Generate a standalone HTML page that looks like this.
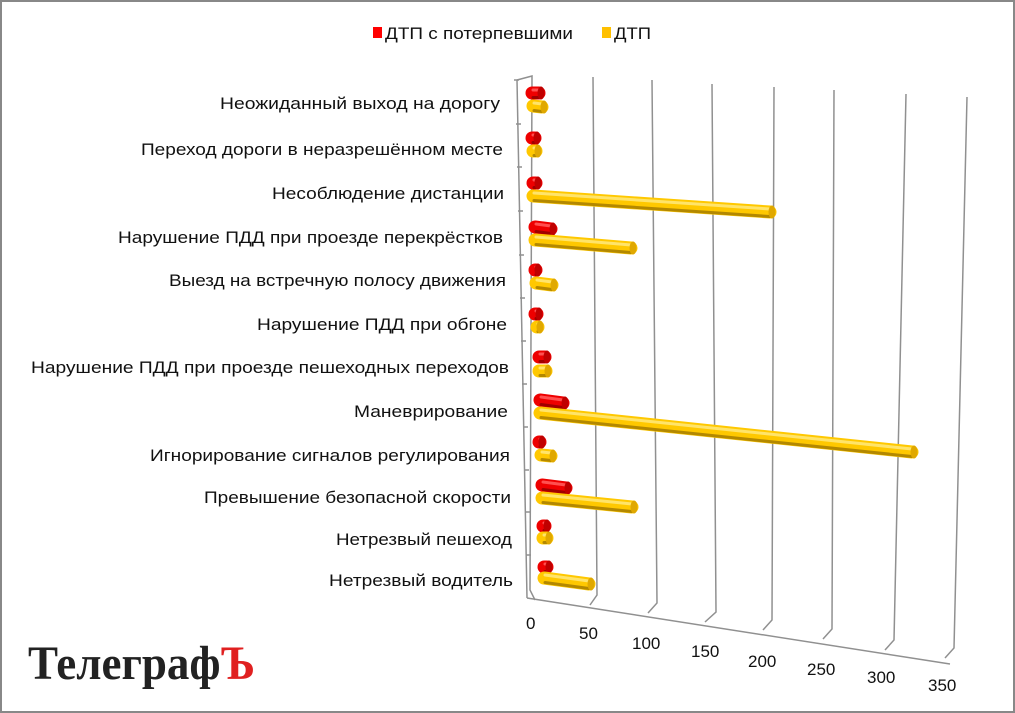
<!DOCTYPE html>
<html><head><meta charset="utf-8"><style>
html,body{margin:0;padding:0;background:#fff}
svg{display:block}
text{font-family:"Liberation Sans",sans-serif;fill:#111}
</style></head><body>
<svg id="s" width="1015" height="713" viewBox="0 0 1015 713" xmlns="http://www.w3.org/2000/svg">
<rect x="1" y="1" width="1013" height="711" fill="#fff" stroke="#888" stroke-width="2"/>
<rect x="373" y="27" width="9" height="11" fill="#ff0000"/>
<text x="385" y="39" font-size="17" textLength="188" lengthAdjust="spacingAndGlyphs">ДТП с потерпевшими</text>
<rect x="602" y="27" width="9" height="11" fill="#ffc000"/>
<text x="614" y="39" font-size="17" textLength="37" lengthAdjust="spacingAndGlyphs">ДТП</text>
<g stroke="#909090" stroke-width="1.5" fill="none">
<polyline points="517,80 532,76 530,590 535,600"/>
<polyline points="593,77 597,595 590,605"/>
<polyline points="652,80 657,603 648,613"/>
<polyline points="712,84 716,612 705,622"/>
<polyline points="774,87 772,620 763,630"/>
<polyline points="834,90 832,629 823,639"/>
<polyline points="906,94 894,640 885,650"/>
<polyline points="967,97 954,648 945,658"/>
<line x1="527" y1="598" x2="950" y2="664"/>
<polyline points="517,80 527,598"/>
</g>
<g stroke="#909090" stroke-width="1.5">
<line x1="514" y1="80" x2="519" y2="80"/><line x1="516" y1="124" x2="521" y2="124"/><line x1="517" y1="167" x2="522" y2="167"/><line x1="518" y1="211" x2="523" y2="211"/><line x1="519" y1="255" x2="524" y2="255"/><line x1="520" y1="298" x2="525" y2="298"/><line x1="521" y1="341" x2="526" y2="341"/><line x1="522" y1="384" x2="527" y2="384"/><line x1="523" y1="427" x2="528" y2="427"/><line x1="524" y1="470" x2="529" y2="470"/><line x1="525" y1="512" x2="530" y2="512"/><line x1="526" y1="555" x2="531" y2="555"/>
</g>
<g font-size="17">
<text x="526" y="629">0</text><text x="579" y="639">50</text><text x="632" y="649">100</text><text x="691" y="657">150</text><text x="748" y="667">200</text><text x="807" y="675">250</text><text x="867" y="683">300</text><text x="928" y="691">350</text>
</g>
<g font-size="17" text-anchor="end">
<text x="500" y="109" textLength="280" lengthAdjust="spacingAndGlyphs">Неожиданный выход на дорогу</text>
<text x="503" y="155" textLength="362" lengthAdjust="spacingAndGlyphs">Переход дороги в неразрешённом  месте</text>
<text x="504" y="199" textLength="232" lengthAdjust="spacingAndGlyphs">Несоблюдение дистанции</text>
<text x="503" y="243" textLength="385" lengthAdjust="spacingAndGlyphs">Нарушение ПДД при проезде перекрёстков</text>
<text x="506" y="286" textLength="337" lengthAdjust="spacingAndGlyphs">Выезд на встречную полосу движения</text>
<text x="507" y="330" textLength="250" lengthAdjust="spacingAndGlyphs">Нарушение ПДД при обгоне</text>
<text x="509" y="373" textLength="478" lengthAdjust="spacingAndGlyphs">Нарушение ПДД при проезде пешеходных переходов</text>
<text x="508" y="417" textLength="154" lengthAdjust="spacingAndGlyphs">Маневрирование</text>
<text x="510" y="461" textLength="360" lengthAdjust="spacingAndGlyphs">Игнорирование сигналов регулирования</text>
<text x="511" y="503" textLength="307" lengthAdjust="spacingAndGlyphs">Превышение безопасной скорости</text>
<text x="512" y="545" textLength="176" lengthAdjust="spacingAndGlyphs">Нетрезвый пешеход</text>
<text x="513" y="586" textLength="184" lengthAdjust="spacingAndGlyphs">Нетрезвый водитель</text>
</g>
<g id="bars"></g>
<text x="28" y="679" style="font-family:'Liberation Serif','DejaVu Serif',serif;font-weight:bold;fill:#222" font-size="48" textLength="227" lengthAdjust="spacingAndGlyphs">Телеграф<tspan style="fill:#e02020">Ъ</tspan></text>
</svg>
<script>
var B=[
[1,532,93,539,93],[0,533,106,542,107],
[1,532,138,535,138],[0,533,151,536,151],
[1,533,183,536,183],[0,533,196,770,212],
[1,535,227,551,229],[0,535,240,631,248],
[1,535,270,536,270],[0,536,283,552,285],
[1,535,314,537,314],[0,537,327,538,327],
[1,539,357,545,357],[0,539,371,546,371],
[1,540,400,563,403],[0,540,413,912,452],
[1,539,442,540,442],[0,541,455,551,456],
[1,542,485,566,488],[0,542,498,632,507],
[1,543,526,545,526],[0,543,538,547,538],
[1,544,567,547,567],[0,544,578,589,584]];
var g=document.getElementById('bars'),h='';
B.forEach(function(b){
var r=b[0],x1=b[1],y1=b[2],x2=b[3],y2=b[4];
var main=r?'#ee0000':'#ffc800',hi=r?'#ff5050':'#ffe46a',dk=r?'#a00000':'#b38800',cap=r?'#c00000':'#e0a800';
h+='<line x1="'+x1+'" y1="'+y1+'" x2="'+x2+'" y2="'+y2+'" stroke="'+main+'" stroke-width="13" stroke-linecap="round"/>';
h+='<line x1="'+(x1+1)+'" y1="'+(y1-3)+'" x2="'+x2+'" y2="'+(y2-3)+'" stroke="'+hi+'" stroke-width="3" stroke-linecap="round"/>';
h+='<line x1="'+(x1+1)+'" y1="'+(y1+4.5)+'" x2="'+x2+'" y2="'+(y2+4.5)+'" stroke="'+dk+'" stroke-width="3" stroke-linecap="round"/>';
h+='<ellipse cx="'+(x2+2)+'" cy="'+y2+'" rx="3.5" ry="6.5" fill="'+cap+'"/>';
});
g.innerHTML=h;
</script>
</body></html>
